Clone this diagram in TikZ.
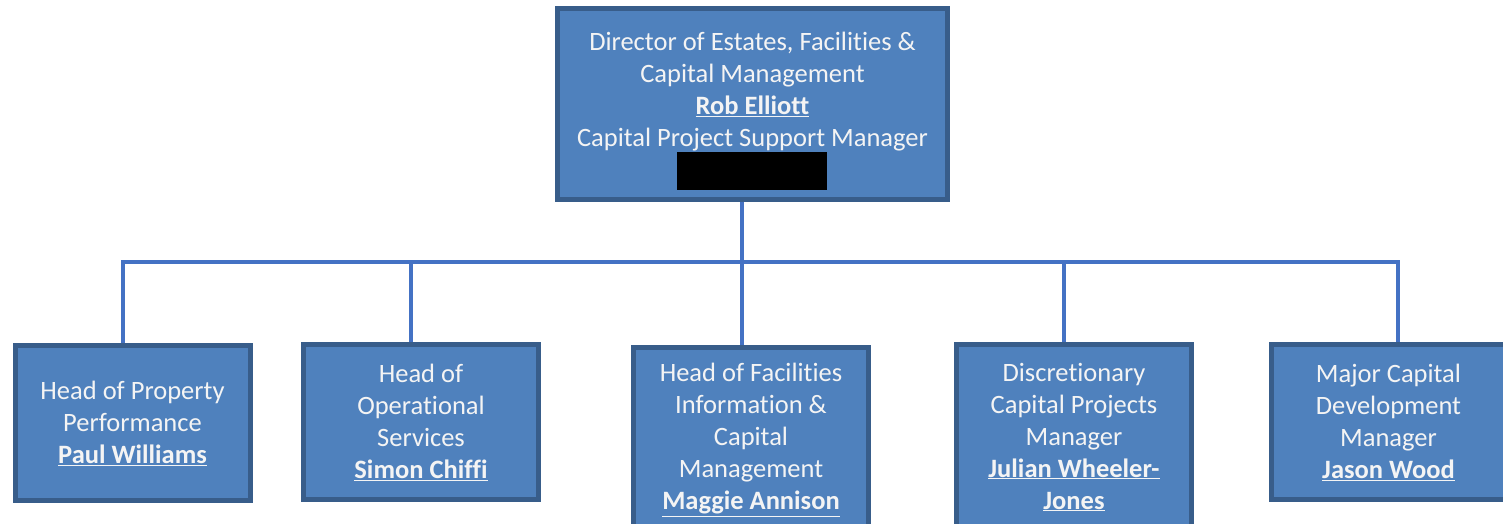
\documentclass[tikz,border=0pt]{standalone}
\usepackage{fontspec}
\setmainfont{Carlito}[Ligatures={NoCommon}]
\definecolor{boxfill}{HTML}{4F81BD}
\definecolor{boxline}{HTML}{385D8A}
\definecolor{connline}{HTML}{4472C4}
\definecolor{txt}{HTML}{F4F4F4}
\newcommand{\nm}[1]{\textbf{\underline{#1}}}
\begin{document}
\begin{tikzpicture}[x=1pt,y=-1pt,
  orgbox/.style={draw=boxline, line width=5pt, fill=boxfill, text=txt, align=center,
    inner sep=0pt, font=\fontsize{26.5}{32}\selectfont},
  smallbox/.style={orgbox, minimum width=235pt, minimum height=155pt},
  tallbox/.style={orgbox, minimum width=235pt, minimum height=185pt},
  conn/.style={draw=connline, line width=4.5pt}]
\useasboundingbox (0,0) rectangle (1503,523);
% connectors (drawn first so the boxes lie on top)
\coordinate (s0) at (742,202);
\coordinate (j1) at (123,262);
\coordinate (j2) at (411,262);
\coordinate (j3) at (742,262);
\coordinate (j4) at (1064,262);
\coordinate (j5) at (1398,262);
\coordinate (t1) at (123,345);
\coordinate (t2) at (411,345);
\coordinate (t3) at (742,345);
\coordinate (t4) at (1064,345);
\coordinate (t5) at (1398,345);
\draw[conn] (s0) -- (j3);
\draw[conn, line cap=rect] (j1) -- (j5);
\draw[conn] (j1) -- (t1);
\draw[conn] (j2) -- (t2);
\draw[conn] (j3) -- (t3);
\draw[conn] (j4) -- (t4);
\draw[conn] (j5) -- (t5);
% boxes
\node[orgbox, minimum width=390pt, minimum height=191pt] (top) at (752.5,104) {};
\node[text=txt, align=center, inner sep=0pt, font=\fontsize{26.5}{32}\selectfont, anchor=north] (toptext) at (752.5,32)
  {Director of Estates, Facilities \&\\ Capital Management\\ \nm{Rob Elliott}\\ Capital Project Support Manager};
\node[fill=black, minimum width=150pt, minimum height=38pt, inner sep=0pt] (redact) at (752,171) {};
\node[smallbox] (b1) at (132.5,423) {Head of Property\\ Performance\\ \nm{Paul Williams}};
\node[smallbox] (b2) at (421,422) {Head of\\ Operational\\ Services\\ \nm{Simon Chiffi}};
\node[tallbox] (b3) at (751,440) {Head of Facilities\\ Information \&\\ Capital\\ Management\\ \nm{Maggie Annison}};
\node[tallbox] (b4) at (1074,437) {Discretionary\\ Capital Projects\\ Manager\\ \nm{Julian Wheeler-}\\ \nm{Jones}};
\node[smallbox] (b5) at (1388.5,422) {Major Capital\\ Development\\ Manager\\ \nm{Jason Wood}};
\end{tikzpicture}
\end{document}
